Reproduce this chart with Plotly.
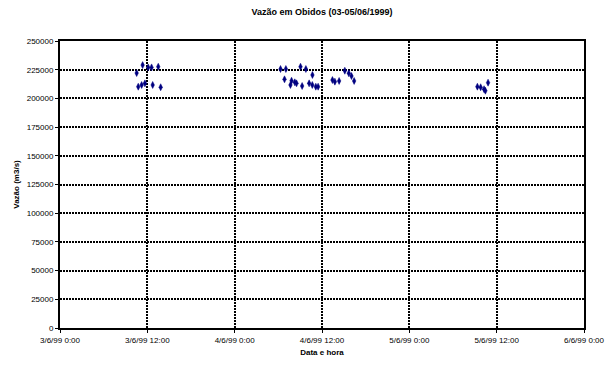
import plotly.graph_objects as go

times = [
    "1999-06-03 10:32", "1999-06-03 11:21", "1999-06-03 12:07", "1999-06-03 12:35", "1999-06-03 13:30",
    "1999-06-03 10:45", "1999-06-03 11:13", "1999-06-03 11:40", "1999-06-03 12:44", "1999-06-03 13:50",
    "1999-06-04 06:18", "1999-06-04 07:02", "1999-06-04 09:03", "1999-06-04 09:47", "1999-06-04 06:51",
    "1999-06-04 07:49", "1999-06-04 08:16", "1999-06-04 07:40", "1999-06-04 08:30", "1999-06-04 09:16",
    "1999-06-04 10:14", "1999-06-04 10:41", "1999-06-04 10:40", "1999-06-04 11:09", "1999-06-04 11:28",
    "1999-06-04 13:26", "1999-06-04 13:46", "1999-06-04 14:21", "1999-06-04 15:08", "1999-06-04 15:41",
    "1999-06-04 16:03", "1999-06-04 16:25",
    "1999-06-05 09:21", "1999-06-05 09:48", "1999-06-05 10:16", "1999-06-05 10:27", "1999-06-05 10:49",
]
vazao = [
    222100, 229000, 227000, 227000, 227600,
    210200, 211700, 213100, 211700, 209700,
    225600, 225600, 227600, 225600, 216600,
    215400, 214000, 211700, 213100, 210800,
    213100, 220400, 211700, 210200, 210200,
    216000, 214600, 215200, 224100, 221900,
    219500, 215200,
    210200, 209700, 208000, 206700, 213700,
]

x_tickvals = ["1999-06-03 00:00", "1999-06-03 12:00", "1999-06-04 00:00", "1999-06-04 12:00",
              "1999-06-05 00:00", "1999-06-05 12:00", "1999-06-06 00:00"]
x_ticktext = ["3/6/99 0:00", "3/6/99 12:00", "4/6/99 0:00", "4/6/99 12:00",
              "5/6/99 0:00", "5/6/99 12:00", "6/6/99 0:00"]
y_tickvals = list(range(0, 250001, 25000))
y_ticktext = [str(v) for v in y_tickvals]

fig = go.Figure(go.Scatter(
    x=times, y=vazao, mode="markers",
    marker=dict(symbol="diamond-tall", size=5, color="#000080",
                line=dict(width=0.5, color="#000080")),
))

font = "Liberation Sans, Arial, sans-serif"
grid = dict(showgrid=True, gridcolor="black", griddash="1.5px,1.5px", gridwidth=1.5)
fig.update_layout(
    width=607, height=365,
    margin=dict(l=60, r=23, t=41, b=37, autoexpand=False),
    paper_bgcolor="white", plot_bgcolor="white",
    showlegend=False,
    font=dict(family=font, size=8, color="black"),
    title=dict(text="<b>Vazão em Obidos (03-05/06/1999)</b>", x=0.5, xref="paper", xanchor="center",
               y=1 - 12 / 365, yref="container", yanchor="middle",
               font=dict(size=9, family=font, color="black")),
    xaxis=dict(
        range=["1999-06-03 00:00", "1999-06-06 00:00"],
        tickmode="array", tickvals=x_tickvals, ticktext=x_ticktext,
        **grid, automargin=False,
        showline=True, linecolor="black", linewidth=2, mirror=True,
        ticks="outside", ticklen=3, tickcolor="black", tickwidth=1,
        tickfont=dict(size=8, family=font),
        title=dict(text="<b>Data e hora</b>", font=dict(size=8, family=font), standoff=6),
        zeroline=False,
    ),
    yaxis=dict(
        range=[0, 250000],
        tickmode="array", tickvals=y_tickvals, ticktext=y_ticktext,
        **grid, automargin=False,
        showline=True, linecolor="black", linewidth=2, mirror=True,
        ticks="outside", ticklen=3, tickcolor="black", tickwidth=1,
        tickfont=dict(size=8, family=font),
        title=dict(text="<b>Vazão (m3/s)</b>", font=dict(size=8, family=font), standoff=6),
        zeroline=False,
    ),
)

fig.write_html("out.html")
